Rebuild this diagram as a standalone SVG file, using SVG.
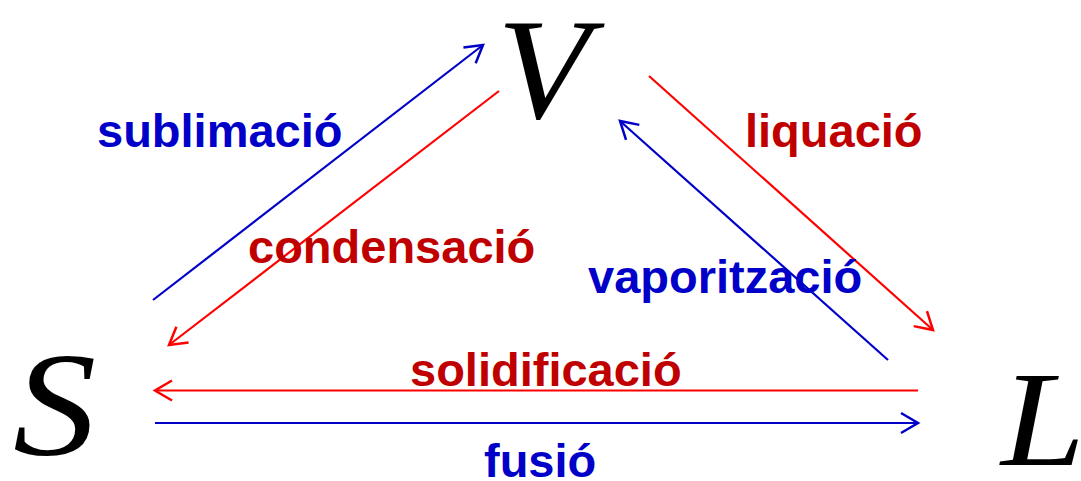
<svg xmlns="http://www.w3.org/2000/svg" width="1081" height="481" viewBox="0 0 1081 481">
<style>
.lbl{font-family:"Liberation Sans",Arial,sans-serif;font-weight:bold;font-size:47px}
.b{fill:#0000C8}
.r{fill:#C00000}
.st{font-family:"Liberation Serif","Times New Roman",serif;font-style:italic;fill:#000}
.lb{stroke:#0000C8;stroke-width:2.2;fill:none;marker-end:url(#ab)}
.lr{stroke:#FF0000;stroke-width:2.2;fill:none;marker-end:url(#ar)}
</style>
<defs>
<marker id="ab" markerUnits="userSpaceOnUse" markerWidth="24" markerHeight="26" viewBox="-20 -13 22 26" refX="0" refY="0" orient="auto">
<path d="M-17,-10 L0,0 L-17,10" fill="none" stroke="#0000C8" stroke-width="2.5"/>
</marker>
<marker id="ar" markerUnits="userSpaceOnUse" markerWidth="24" markerHeight="26" viewBox="-20 -13 22 26" refX="0" refY="0" orient="auto">
<path d="M-17,-10 L0,0 L-17,10" fill="none" stroke="#FF0000" stroke-width="2.5"/>
</marker>
</defs>
<g id="node-S"><text class="st" transform="translate(13,455) scale(1.15,1.02)" x="0" y="0" font-size="145">S</text></g>
<g id="node-V"><text class="st" transform="translate(497,118) scale(1.05,1)" x="0" y="0" font-size="145">V</text></g>
<g id="node-L"><text class="st" transform="translate(1001,465) scale(1.12,1)" x="0" y="0" font-size="135">L</text></g>
<g id="connectors">
<line class="lb" x1="153" y1="300" x2="483" y2="45"/>
<line class="lr" x1="499" y1="91" x2="169" y2="345"/>
<line class="lr" x1="649" y1="76" x2="933" y2="330"/>
<line class="lb" x1="888" y1="360" x2="620" y2="121"/>
<line class="lr" x1="918" y1="390.5" x2="155" y2="390.5"/>
<line class="lb" x1="155" y1="423" x2="918" y2="423"/>
</g>
<g id="labels">
<text class="lbl b" x="97" y="147">sublimació</text>
<text class="lbl r" x="248" y="263">condensació</text>
<text class="lbl r" x="745" y="147">liquació</text>
<text class="lbl b" x="588" y="293">vaporització</text>
<text class="lbl r" x="410" y="386">solidificació</text>
<text class="lbl b" x="484" y="477">fusió</text>
</g>
</svg>
